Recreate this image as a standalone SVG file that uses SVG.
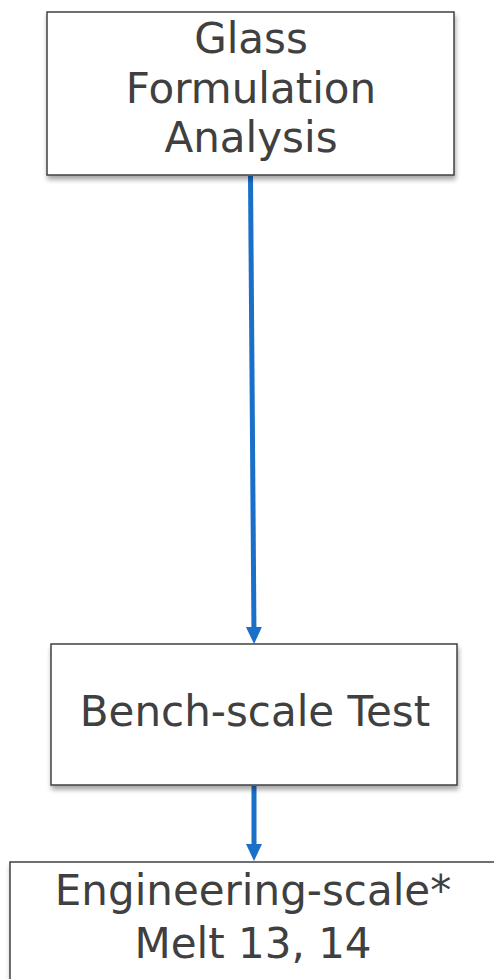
<svg xmlns="http://www.w3.org/2000/svg" width="494" height="979" viewBox="0 0 494 979">
  <style>
    .box { fill: #ffffff; stroke: #404040; stroke-width: 1.5; filter: url(#shadow); }
    .label { font-family: "DejaVu Sans", Verdana, sans-serif; font-size: 42px; fill: #404040; text-anchor: middle; }
    .flow { stroke: #1a6fc9; stroke-width: 5; fill: none; marker-end: url(#head); }
  </style>
  <defs>
    <filter id="shadow" x="-10%" y="-10%" width="120%" height="130%">
      <feGaussianBlur in="SourceAlpha" stdDeviation="2.5"/>
      <feOffset dx="1" dy="4" result="b"/>
      <feComponentTransfer><feFuncA type="linear" slope="0.35"/></feComponentTransfer>
      <feMerge><feMergeNode/><feMergeNode in="SourceGraphic"/></feMerge>
    </filter>
    <!-- arrowhead: tip sits 8px past the line end -->
    <marker id="head" markerWidth="4" markerHeight="4" refX="1.8" refY="2" orient="auto" markerUnits="strokeWidth">
      <path d="M0,0.4 L3.4,2 L0,3.6 Z" fill="#1a6fc9"/>
    </marker>
  </defs>

  <g id="connectors">
    <line class="flow" x1="250.5" y1="176" x2="254" y2="636"/>
    <line class="flow" x1="254" y1="786" x2="254" y2="853"/>
  </g>

  <g id="glass-formulation">
    <rect class="box" x="47" y="12" width="407" height="163"/>
    <text class="label" x="251" y="53">Glass</text>
    <text class="label" x="251" y="103">Formulation</text>
    <text class="label" x="251" y="152">Analysis</text>
  </g>

  <g id="bench-scale">
    <rect class="box" x="51" y="644" width="406" height="141"/>
    <text class="label" x="255" y="726">Bench-scale Test</text>
  </g>

  <g id="engineering-scale">
    <rect class="box" x="10" y="862" width="500" height="140"/>
    <text class="label" x="253" y="905">Engineering-scale*</text>
    <text class="label" x="253" y="958">Melt 13, 14</text>
  </g>
</svg>
